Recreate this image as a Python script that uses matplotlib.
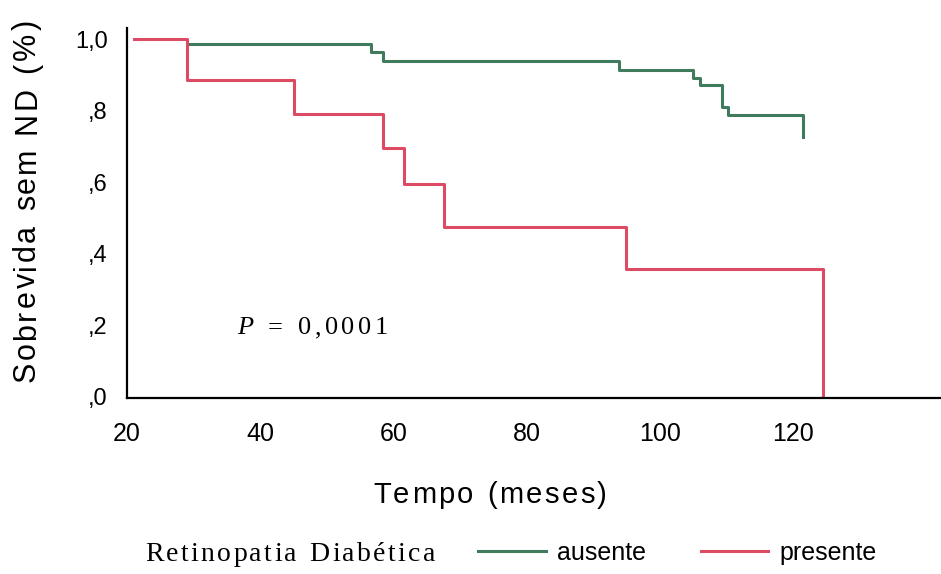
import matplotlib
matplotlib.use('Agg')
from matplotlib import pyplot as plt

# Kaplan-Meier steps (time in months, survival after the event)
t_aus = [29.0, 56.6, 58.4, 93.9, 105.0, 106.0, 109.3, 110.3, 121.5]
s_aus = [0.986, 0.963, 0.939, 0.915, 0.892, 0.872, 0.811, 0.788, 0.727]
t_pre = [21.0, 29.0, 45.1, 58.4, 61.6, 67.6, 95.0, 124.5]
s_pre = [1.0, 0.887, 0.790, 0.696, 0.595, 0.476, 0.357, 0.0]

x_ticks = [20, 40, 60, 80, 100, 120]
y_ticks = [0.0, 0.2, 0.4, 0.6, 0.8, 1.0]
y_labels = [',0', ',2', ',4', ',6', ',8', '1,0']

green = '#3f7b5c'
red = '#dc4a63'

W, H, DPI = 941, 574, 100
plt.rcParams['font.family'] = 'Liberation Sans'

fig = plt.figure(figsize=(W / DPI, H / DPI), dpi=DPI)
ax = fig.add_axes([127 / W, 1 - 398 / H, 813 / W, 370 / H])

l_aus, = ax.step(t_aus, s_aus, where='post', color=green, lw=2.2)
l_pre, = ax.step(t_pre, s_pre, where='post', color=red, lw=2.2)

ax.set_xlim(20, 142.1)
ax.set_ylim(-0.003, 1.031)
ax.set_xticks(x_ticks)
ax.set_xticklabels([str(v) for v in x_ticks], fontsize=18)
ax.set_yticks(y_ticks)
ax.set_yticklabels(y_labels, fontsize=17)
ax.tick_params(axis='x', length=0, pad=17)
ax.tick_params(axis='y', length=0, pad=14)
for side in ['top', 'right']:
    ax.spines[side].set_visible(False)
for side in ['left', 'bottom']:
    ax.spines[side].set_linewidth(1.6)


def spaced_text(x, y, s, length, vertical=False, **kw):
    # letter by letter so the text fills `length` px from (x, y), y measured from the top
    r = fig.canvas.get_renderer()
    rot = 90 if vertical else 0
    parts = []
    for ch in s:
        if ch == ' ':
            parts.append((None, kw['fontsize'] * 0.3 * DPI / 72))
            continue
        t = fig.text(0, 0, ch, rotation=rot, rotation_mode='anchor',
                     ha='left', va='baseline', **kw)
        bb = t.get_window_extent(r)
        parts.append((t, bb.height if vertical else bb.width))
    gap = (length - sum(w for _, w in parts)) / (len(parts) - 1)
    pos = 0
    for t, w in parts:
        if t is not None:
            if vertical:
                t.set_position((x / W, 1 - (y - pos) / H))
            else:
                t.set_position(((x + pos) / W, 1 - y / H))
        pos += w + gap


spaced_text(35, 382, 'Sobrevida sem ND (%)', 362, vertical=True, fontsize=22)
spaced_text(373, 503, 'Tempo (meses)', 234, fontsize=21)

fig.text(237 / W, 1 - 334 / H, 'P', fontsize=19, family='Liberation Serif',
         style='italic', ha='left', va='baseline')
spaced_text(268, 334, '= 0,0001', 120, fontsize=19, family='Liberation Serif')

spaced_text(145, 561, 'Retinopatia Diabética', 290, fontsize=20,
            family='Liberation Serif')
fig.legend([l_aus, l_pre], ['ausente', 'presente'], ncol=2, frameon=False,
           fontsize=18, loc='center left', bbox_to_anchor=(478 / W, 1 - 553 / H),
           borderpad=0, borderaxespad=0, handlelength=2.7, handletextpad=0.45,
           columnspacing=2.2)

fig.savefig('out.png', dpi=DPI)
